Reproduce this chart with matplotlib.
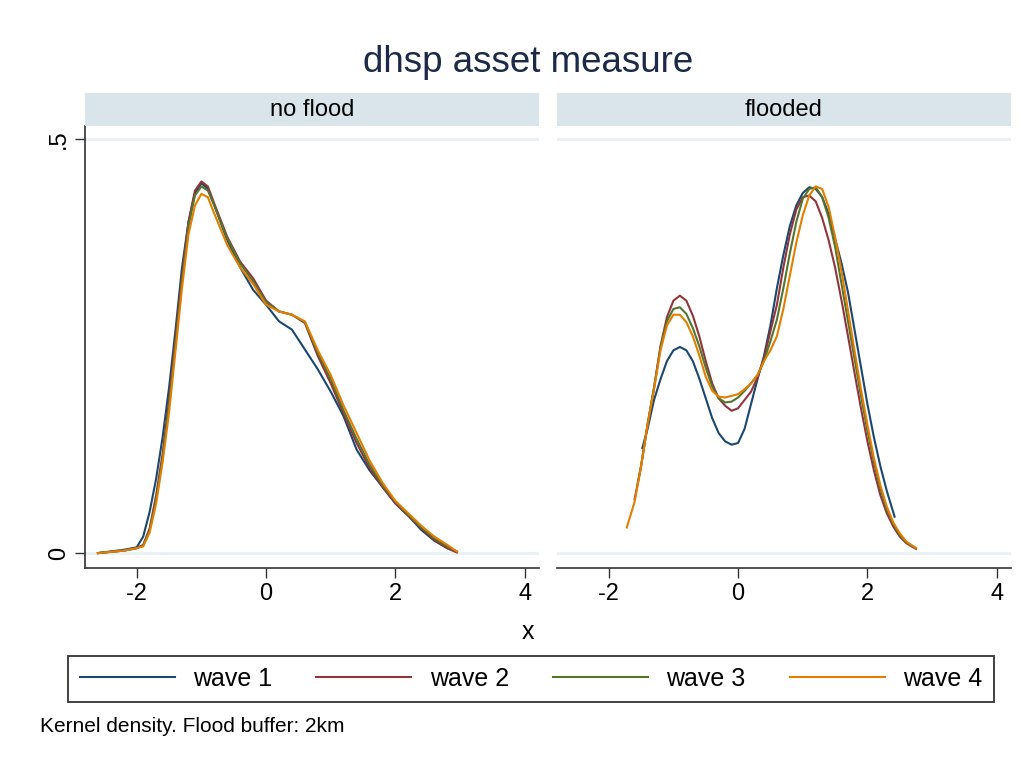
import matplotlib
matplotlib.use("Agg")
import matplotlib.pyplot as plt

plt.rcParams["font.family"] = ["Liberation Sans", "DejaVu Sans"]

# ============================================================
# Data (kernel density estimates)
# ============================================================

waves = ["wave 1", "wave 2", "wave 3", "wave 4"]
colors = ["#1a476f", "#90353b", "#55752f", "#e37e00"]

# no flood panel: common x grid
x_noflood = [-2.6, -2.2, -2.0, -1.9, -1.8, -1.7, -1.6, -1.5, -1.4, -1.3, -1.2,
             -1.1, -1.0, -0.9, -0.8, -0.6, -0.4, -0.2, 0.0, 0.2, 0.4, 0.6, 0.8,
             1.0, 1.2, 1.4, 1.6, 1.8, 2.0, 2.2, 2.4, 2.6, 2.8, 2.95]

noflood_w1 = [0.000, 0.004, 0.007, 0.020, 0.050, 0.090, 0.140, 0.200, 0.270, 0.345, 0.400,
              0.435, 0.447, 0.440, 0.420, 0.378, 0.345, 0.318, 0.300, 0.280, 0.270, 0.246, 0.222,
              0.195, 0.165, 0.125, 0.100, 0.080, 0.060, 0.045, 0.028, 0.015, 0.006, 0.001]
noflood_w2 = [0.000, 0.003, 0.006, 0.010, 0.030, 0.070, 0.120, 0.185, 0.260, 0.335, 0.400,
              0.438, 0.449, 0.443, 0.422, 0.382, 0.352, 0.332, 0.305, 0.292, 0.288, 0.278, 0.238,
              0.205, 0.168, 0.133, 0.103, 0.080, 0.060, 0.045, 0.030, 0.016, 0.006, 0.001]
noflood_w3 = [0.000, 0.003, 0.006, 0.009, 0.028, 0.065, 0.115, 0.178, 0.252, 0.328, 0.395,
              0.432, 0.443, 0.438, 0.420, 0.380, 0.350, 0.328, 0.303, 0.292, 0.288, 0.279, 0.242,
              0.210, 0.172, 0.138, 0.107, 0.082, 0.062, 0.046, 0.031, 0.018, 0.008, 0.002]
noflood_w4 = [0.000, 0.003, 0.006, 0.008, 0.025, 0.060, 0.110, 0.170, 0.245, 0.320, 0.385,
              0.420, 0.434, 0.430, 0.410, 0.372, 0.345, 0.325, 0.300, 0.292, 0.288, 0.280, 0.245,
              0.215, 0.178, 0.145, 0.112, 0.085, 0.063, 0.048, 0.033, 0.020, 0.010, 0.002]

# flooded panel: each wave has its own support
x_flood_w1 = [-1.48, -1.4, -1.3, -1.2, -1.1, -1.0, -0.9, -0.8, -0.7, -0.6, -0.5, -0.4,
              -0.3, -0.2, -0.1, 0.0, 0.1, 0.2, 0.3, 0.4, 0.5, 0.6, 0.7, 0.8, 0.9, 1.0,
              1.1, 1.2, 1.3, 1.4, 1.5, 1.6, 1.7, 1.8, 1.9, 2.0, 2.1, 2.2, 2.3, 2.42]
flood_w1 = [0.127, 0.150, 0.185, 0.210, 0.232, 0.245, 0.249, 0.245, 0.232, 0.211, 0.187, 0.163,
            0.145, 0.135, 0.131, 0.133, 0.150, 0.180, 0.210, 0.238, 0.275, 0.320, 0.360, 0.395,
            0.420, 0.435, 0.442, 0.440, 0.430, 0.410, 0.380, 0.350, 0.315, 0.270, 0.225, 0.180,
            0.140, 0.105, 0.075, 0.044]

x_flood_w2 = [-1.6, -1.5, -1.4, -1.3, -1.2, -1.1, -1.0, -0.9, -0.8, -0.7, -0.6, -0.5, -0.4,
              -0.3, -0.2, -0.1, 0.0, 0.1, 0.2, 0.3, 0.4, 0.5, 0.6, 0.7, 0.8, 0.9, 1.0,
              1.1, 1.2, 1.3, 1.4, 1.5, 1.6, 1.7, 1.8, 1.9, 2.0, 2.1, 2.2, 2.3, 2.4,
              2.5, 2.6, 2.75]
flood_w2 = [0.065, 0.105, 0.155, 0.200, 0.250, 0.285, 0.305, 0.311, 0.305, 0.287, 0.262, 0.232, 0.205,
            0.187, 0.178, 0.172, 0.175, 0.185, 0.195, 0.212, 0.235, 0.268, 0.300, 0.345, 0.385, 0.415, 0.430,
            0.432, 0.425, 0.405, 0.378, 0.345, 0.305, 0.262, 0.218, 0.175, 0.135, 0.100, 0.070, 0.048, 0.032,
            0.020, 0.012, 0.005]

x_flood_w3 = [-1.55, -1.5, -1.4, -1.3, -1.2, -1.1, -1.0, -0.9, -0.8, -0.7, -0.6, -0.5, -0.4,
              -0.3, -0.2, -0.1, 0.0, 0.1, 0.2, 0.3, 0.4, 0.5, 0.6, 0.7, 0.8, 0.9, 1.0,
              1.1, 1.2, 1.3, 1.4, 1.5, 1.6, 1.7, 1.8, 1.9, 2.0, 2.1, 2.2, 2.3, 2.4,
              2.5, 2.6, 2.75]
flood_w3 = [0.085, 0.105, 0.155, 0.199, 0.248, 0.280, 0.295, 0.297, 0.289, 0.272, 0.250, 0.224, 0.201,
            0.187, 0.182, 0.183, 0.188, 0.196, 0.205, 0.215, 0.232, 0.256, 0.282, 0.320, 0.362, 0.400, 0.428,
            0.440, 0.442, 0.430, 0.405, 0.370, 0.325, 0.280, 0.235, 0.190, 0.148, 0.110, 0.078, 0.053, 0.035,
            0.022, 0.013, 0.006]

x_flood_w4 = [-1.72, -1.6, -1.5, -1.4, -1.3, -1.2, -1.1, -1.0, -0.9, -0.8, -0.7, -0.6, -0.5, -0.4,
              -0.3, -0.2, -0.1, 0.0, 0.1, 0.2, 0.3, 0.4, 0.5, 0.6, 0.7, 0.8, 0.9, 1.0,
              1.1, 1.2, 1.3, 1.4, 1.5, 1.6, 1.7, 1.8, 1.9, 2.0, 2.1, 2.2, 2.3, 2.4,
              2.5, 2.6, 2.75]
flood_w4 = [0.031, 0.062, 0.105, 0.155, 0.198, 0.245, 0.275, 0.288, 0.288, 0.279, 0.262, 0.239, 0.213, 0.196,
            0.189, 0.188, 0.190, 0.192, 0.198, 0.205, 0.215, 0.232, 0.245, 0.262, 0.295, 0.335, 0.375, 0.408,
            0.432, 0.443, 0.440, 0.418, 0.382, 0.340, 0.293, 0.245, 0.198, 0.155, 0.115, 0.082, 0.056, 0.037,
            0.024, 0.014, 0.006]

panel_titles = ["no flood", "flooded"]
panel_x = [[x_noflood] * 4, [x_flood_w1, x_flood_w2, x_flood_w3, x_flood_w4]]
panel_y = [[noflood_w1, noflood_w2, noflood_w3, noflood_w4],
           [flood_w1, flood_w2, flood_w3, flood_w4]]

x_ticks = [-2, 0, 2, 4]
y_ticks = [0, 0.5]
y_ticklabels = ["0", ".5"]

# ============================================================
# Drawing
# ============================================================

W, H = 1034, 758
fig = plt.figure(figsize=(W / 100, H / 100), dpi=100)

strip_color = "#d9e5eb"
grid_color = "#eaf1f4"
axis_color = "#333333"

ax_lefts = [85, 557]
ax_w = 454
ax_top, ax_bot = 126, 568

axes = []
for i in range(2):
    ax = fig.add_axes([ax_lefts[i] / W, 1 - ax_bot / H, ax_w / W, (ax_bot - ax_top) / H])
    axes.append(ax)

    for xs, ys, c, lab in zip(panel_x[i], panel_y[i], colors, waves):
        ax.plot(xs, ys, color=c, lw=1.5, label=lab, solid_joinstyle="round")

    ax.set_xlim(-2.8, 4.22)
    ax.set_ylim(-0.018, 0.516)
    ax.set_xticks(x_ticks)
    ax.set_xticklabels([str(t) for t in x_ticks])
    ax.set_yticks(y_ticks)
    for yv in y_ticks:
        ax.axhline(yv, color=grid_color, lw=2.2, zorder=0)

    ax.tick_params(axis="x", length=7, width=1, color=axis_color, labelsize=17, pad=4)
    ax.tick_params(axis="y", length=7, width=1, color=axis_color, labelsize=17, pad=4)

    for s in ["top", "right"]:
        ax.spines[s].set_visible(False)
    ax.spines["bottom"].set_color(axis_color)
    ax.spines["bottom"].set_linewidth(1.2)

    if i == 0:
        ax.set_yticklabels(y_ticklabels, rotation=90, va="center")
        ax.spines["left"].set_color(axis_color)
        ax.spines["left"].set_linewidth(1.2)
    else:
        ax.spines["left"].set_visible(False)
        ax.tick_params(axis="y", left=False, labelleft=False)

    # header strip
    strip = fig.add_axes([ax_lefts[i] / W, 1 - 126 / H, ax_w / W, 33 / H])
    strip.set_facecolor(strip_color)
    strip.set_xticks([])
    strip.set_yticks([])
    for s in strip.spines.values():
        s.set_visible(False)
    strip.text(0.5, 0.5, panel_titles[i], ha="center", va="center", fontsize=17,
               color="black", transform=strip.transAxes)

fig.text(528 / W, 1 - 62 / H, "dhsp asset measure", ha="center", va="center",
         fontsize=26.5, color="#1c2a48")
fig.text(528 / W, 1 - 632 / H, "x", ha="center", va="center", fontsize=18)

handles, labels = axes[0].get_legend_handles_labels()
leg = fig.legend(handles, labels, ncol=4, loc="center",
                 bbox_to_anchor=(531 / W, 1 - 679 / H), fontsize=18,
                 frameon=True, fancybox=False, edgecolor="black",
                 handlelength=3.8, handletextpad=0.75, columnspacing=1.75,
                 borderpad=0.45, borderaxespad=0)
leg.get_frame().set_linewidth(1.3)

fig.text(40 / W, 1 - 727 / H, "Kernel density. Flood buffer: 2km", ha="left",
         va="center", fontsize=15)

fig.savefig("out.png", dpi=100)
